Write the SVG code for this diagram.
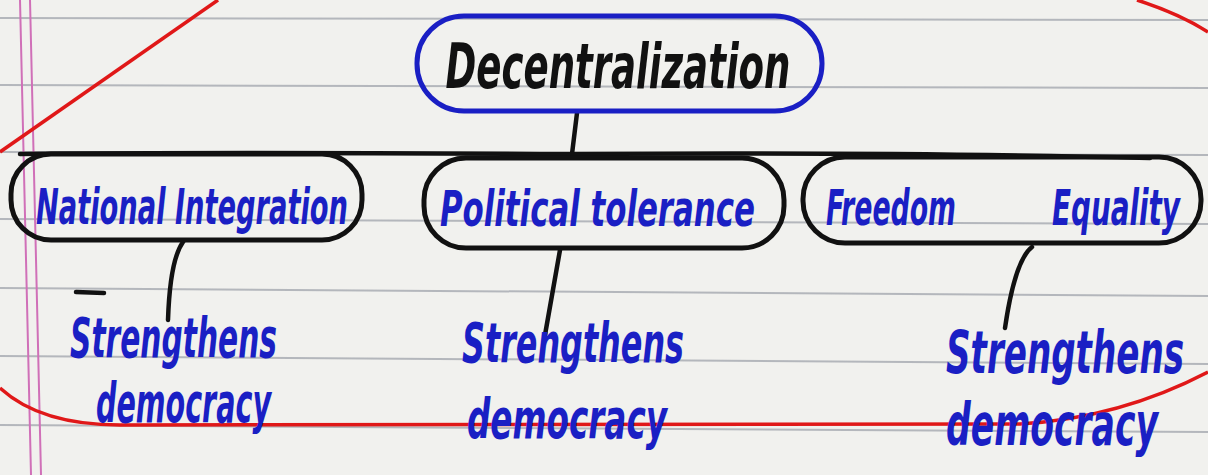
<svg xmlns="http://www.w3.org/2000/svg" width="1208" height="475" viewBox="0 0 1208 475">
<style>
.rule{stroke:#9a9ea6;stroke-width:2;fill:none;opacity:0.7}
.margin{stroke:#d070b8;stroke-width:2;fill:none}
.red{stroke:#e01818;stroke-width:3.5;fill:none}
.box{fill:none;stroke-width:5}
.conn{stroke:#111;stroke-width:4.5;fill:none;stroke-linecap:round}
.t{font-family:"DejaVu Sans Condensed","DejaVu Sans",sans-serif;font-weight:bold;font-style:italic}
.blue{fill:#1a1fc4}
</style>
<rect width="1208" height="475" fill="#f1f1ee"/>
<g id="paper">
<path class="rule" d="M0 18 L1208 20 M0 85 L1208 88 M0 152 L1208 155 M0 219 L1208 224 M0 288 L1208 296 M0 356 L1208 364 M0 425 L1208 432"/>
<path class="margin" d="M20 0 L31 475 M30 0 L41 475"/>
</g>
<g id="outline">
<path class="red" d="M218 0 L0 152"/>
<path class="red" d="M0 388 Q40 425 120 425 L1020 424 Q1120 418 1208 372"/>
<path class="red" d="M1137 0 Q1180 14 1208 32"/>
</g>
<g id="connectors">
<path class="conn" d="M577 113 L572 154"/>
<path class="conn" d="M20 154 Q200 152 572 154 Q900 152 1150 158"/>
<path class="conn" d="M183 242 Q170 260 168 320"/>
<path class="conn" d="M560 250 L545 335"/>
<path class="conn" d="M1032 247 Q1015 260 1005 328"/>
<path class="conn" d="M76 292 L104 293"/>
</g>
<g id="n-decentralization">
<rect class="box" x="417" y="16" width="405" height="95" rx="47" stroke="#1a1fc4"/>
<text class="t" x="618" y="88" font-size="62" fill="#111" text-anchor="middle" textLength="345" lengthAdjust="spacingAndGlyphs">Decentralization</text>
</g>
<g id="n-national">
<rect class="box" x="11" y="154" width="351" height="86" rx="40" stroke="#111"/>
<text class="t blue" x="36" y="224" font-size="50" textLength="312" lengthAdjust="spacingAndGlyphs">National Integration</text>
</g>
<g id="n-political">
<rect class="box" x="424" y="158" width="360" height="90" rx="42" stroke="#111"/>
<text class="t blue" x="440" y="226" font-size="50" textLength="315" lengthAdjust="spacingAndGlyphs">Political  tolerance</text>
</g>
<g id="n-freedom">
<rect class="box" x="803" y="157" width="398" height="86" rx="42" stroke="#111"/>
<text class="t blue" x="826" y="225" font-size="50" textLength="130" lengthAdjust="spacingAndGlyphs">Freedom</text>
<text class="t blue" x="1052" y="225" font-size="50" textLength="128" lengthAdjust="spacingAndGlyphs">Equality</text>
</g>
<g id="n-s1">
<text class="t blue" x="70" y="357" font-size="56" textLength="207" lengthAdjust="spacingAndGlyphs">Strengthens</text>
<text class="t blue" x="96" y="422" font-size="56" textLength="175" lengthAdjust="spacingAndGlyphs">democracy</text>
</g>
<g id="n-s2">
<text class="t blue" x="462" y="362" font-size="56" textLength="222" lengthAdjust="spacingAndGlyphs">Strengthens</text>
<text class="t blue" x="467" y="438" font-size="56" textLength="200" lengthAdjust="spacingAndGlyphs">democracy</text>
</g>
<g id="n-s3">
<text class="t blue" x="946" y="373" font-size="58" textLength="238" lengthAdjust="spacingAndGlyphs">Strengthens</text>
<text class="t blue" x="946" y="445" font-size="58" textLength="212" lengthAdjust="spacingAndGlyphs">democracy</text>
</g>
</svg>
